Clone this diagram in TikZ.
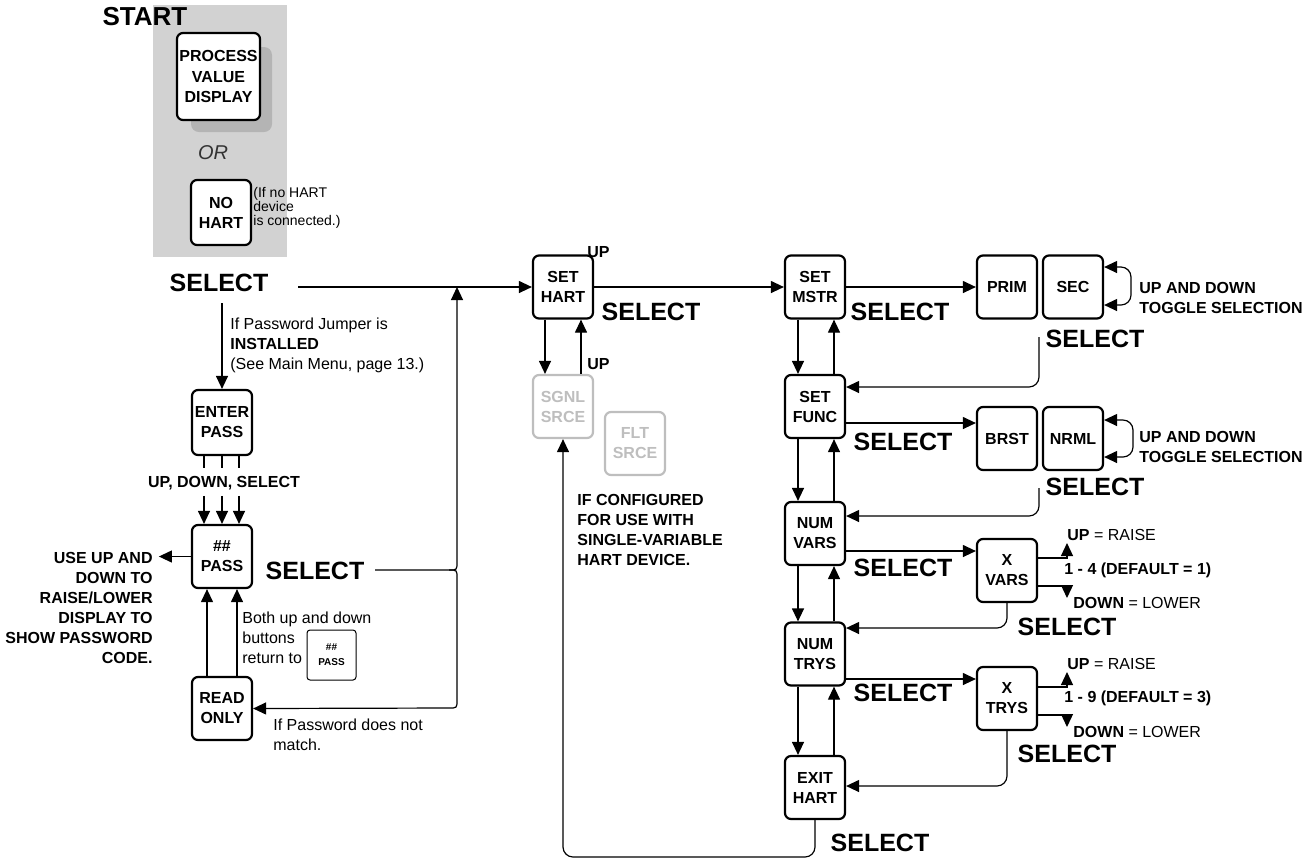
\documentclass[tikz,border=0pt]{standalone}
\usepackage{fontspec}
\setmainfont{Liberation Sans}
\usetikzlibrary{arrows.meta}
\definecolor{panelgray}{RGB}{210,210,210}
\definecolor{shadowgray}{RGB}{180,180,180}
\definecolor{lgray}{RGB}{190,190,190}
\begin{document}
\begin{tikzpicture}[x=0.5pt,y=-0.5pt,
  arr/.style={line width=0.6pt,-{Triangle[length=6.5pt,width=6pt]}},
  conn/.style={line width=0.6pt},
  btn/.style={draw,line width=1.1pt,rounded corners=3pt,fill=white,minimum width=30pt,minimum height=31.5pt,inner sep=0pt,align=center,font=\fontsize{8}{10}\selectfont\bfseries},
  lbl/.style={inner sep=0pt,font=\fontsize{8}{10}\selectfont\bfseries},
  txt/.style={inner sep=0pt,font=\fontsize{8}{10}\selectfont},
  sel/.style={inner sep=0pt,font=\fontsize{12.5}{15}\selectfont\bfseries}]
\useasboundingbox (0,0) rectangle (1312,859);

% start panel
\fill[panelgray] (153,5) rectangle (287,257);
\fill[shadowgray,rounded corners=4pt] (191,47) rectangle (272,132);
\node[btn,minimum width=41.5pt,minimum height=43.5pt,font=\fontsize{8}{10.25}\selectfont\bfseries] (pvd) at (218.5,76.5) {PROCESS\\VALUE\\DISPLAY};
\node[inner sep=0pt,font=\fontsize{13}{15}\selectfont\bfseries] (start) at (145,17) {START};
\node[inner sep=0pt,font=\fontsize{10}{12}\selectfont\itshape,text=black!80] (or) at (213,153) {OR};
\node[btn,minimum height=32.5pt] (nohart) at (221,212.5) {NO\\HART};
\node[txt,font=\fontsize{7}{7}\selectfont,anchor=west,align=left] (nohartnote) at (253,208) {(If no HART\\device\\is connected.)};

% left column
\node[sel] (sel1) at (219,283) {SELECT};
\coordinate (s1out) at (298,287);
\coordinate (s1down) at (222,303);
\node[txt,anchor=west,align=left] (pwnote) at (230,345) {If Password Jumper is\\\textbf{INSTALLED}\\(See Main Menu, page 13.)};
\node[btn,minimum height=32.5pt] (enterpass) at (222,422.5) {ENTER\\PASS};
\node[lbl] (udslbl) at (224,483) {UP, DOWN, SELECT};
\node[btn] (pass) at (222,556.5) {\#\#\\PASS};
\node[btn] (readonly) at (222,708.5) {READ\\ONLY};
\node[lbl,anchor=east,align=right] (usenote) at (153,607.5) {USE UP AND\\DOWN TO\\RAISE/LOWER\\DISPLAY TO\\SHOW PASSWORD\\CODE.};
\node[sel] (sel2) at (315,571) {SELECT};
\coordinate (s2out) at (375,570);
\node[txt,anchor=west,align=left] (bothnote) at (242,638) {Both up and down\\buttons\\return to};
\node[draw,line width=0.5pt,rounded corners=1.5pt,minimum width=24.5pt,minimum height=25pt,inner sep=0pt,align=center,font=\fontsize{5}{7.5}\selectfont\bfseries] (minipass) at (331.5,655) {\#\#\\PASS};
\node[txt,anchor=west,align=left] (nomatch) at (273,735) {If Password does not\\match.};

% set hart
\node[btn] (sethart) at (563,287) {SET\\HART};
\node[lbl,anchor=west] (up1) at (587,252) {UP};
\node[sel] (sel3) at (651,312) {SELECT};
\node[btn,draw=lgray,text=lgray] (sgnl) at (563,406.5) {SGNL\\SRCE};
\node[btn,draw=lgray,text=lgray] (flt) at (635,443.5) {FLT\\SRCE};
\node[lbl,anchor=west] (up2) at (587,364) {UP};
\node[lbl,anchor=west,align=left] (ifconf) at (577,530) {IF CONFIGURED\\FOR USE WITH\\SINGLE-VARIABLE\\HART DEVICE.};

% right column
\node[btn] (setmstr) at (815,287) {SET\\MSTR};
\node[btn] (setfunc) at (815,406.5) {SET\\FUNC};
\node[btn] (numvars) at (815,533.5) {NUM\\VARS};
\node[btn] (numtrys) at (815,654) {NUM\\TRYS};
\node[btn] (exithart) at (815,787.5) {EXIT\\HART};
\node[btn] (prim) at (1007,287) {PRIM};
\node[btn] (sec) at (1073,287) {SEC};
\node[btn] (brst) at (1007,438.5) {BRST};
\node[btn] (nrml) at (1073,438.5) {NRML};
\node[btn] (xvars) at (1007,570.5) {X\\VARS};
\node[btn] (xtrys) at (1007,698.5) {X\\TRYS};

\node[sel] (selm) at (900,312) {SELECT};
\node[sel] (self) at (903,442) {SELECT};
\node[sel] (selv) at (903,568) {SELECT};
\node[sel] (selt) at (903,693) {SELECT};
\node[sel] (sele) at (880,843) {SELECT};
\node[sel] (selsec) at (1095,339) {SELECT};
\node[sel] (selnrml) at (1095,487) {SELECT};
\node[sel] (selxv) at (1067,627) {SELECT};
\node[sel] (selxt) at (1067,754) {SELECT};

\node[lbl,anchor=west,align=left] (tog1) at (1139,298) {UP AND DOWN\\TOGGLE SELECTION};
\node[lbl,anchor=west,align=left] (tog2) at (1139,447) {UP AND DOWN\\TOGGLE SELECTION};

\node[txt,anchor=west] (vup) at (1067,535) {\textbf{UP} = RAISE};
\node[lbl,anchor=west] (vrange) at (1064,570) {1 - 4 (DEFAULT = 1)};
\node[txt,anchor=west] (vdown) at (1073,603) {\textbf{DOWN} = LOWER};
\node[txt,anchor=west] (tup) at (1067,664) {\textbf{UP} = RAISE};
\node[lbl,anchor=west] (trange) at (1064,698) {1 - 9 (DEFAULT = 3)};
\node[txt,anchor=west] (tdown) at (1073,732) {\textbf{DOWN} = LOWER};

% ---- connectors ----
\coordinate (junc) at (457,287);
\draw[arr] (s1out) -- (sethart.west);
\draw[arr] (s1down) -- (enterpass.north);
\foreach \dx in {-9pt,0pt,8.5pt}{
  \draw[conn] ([xshift=\dx]enterpass.south) -- ++(0,12);
  \draw[arr] ([xshift=\dx]pass.north) ++(0,-28) -- ([xshift=\dx]pass.north);
}
\draw[arr] (pass.west) -- ++(-32,0);
\draw[arr] ([xshift=-7.5pt]readonly.north) -- ([xshift=-7.5pt]pass.south);
\draw[arr] ([xshift=7.5pt]readonly.north) -- ([xshift=7.5pt]pass.south);
\draw[arr] (s2out) -- (449,570) .. controls (457,570) .. (457,562) -- (junc);
\draw[arr] (449,570) .. controls (457,570) .. (457,578) -- (457,700) .. controls (457,708) .. (449,708) -- (readonly.east);

\draw[arr] (sethart.east) -- (setmstr.west);
\draw[arr] ([xshift=-9pt]sethart.south) -- ([xshift=-9pt]sgnl.north);
\draw[arr] ([xshift=9pt]sgnl.north) -- ([xshift=9pt]sethart.south);
\draw[arr,rounded corners=5pt] (exithart.south) -- (815,857) -- (563,857) -- (sgnl.south);

\draw[arr] (setmstr.east) -- (prim.west);
\draw[arr] (setfunc.east |- 0,423) -- (brst.west |- 0,423);
\draw[arr] (numvars.east |- 0,551) -- (xvars.west |- 0,551);
\draw[arr] (numtrys.east |- 0,679) -- (xtrys.west |- 0,679);

\foreach \a/\b in {setmstr/setfunc,setfunc/numvars,numvars/numtrys,numtrys/exithart}{
  \draw[arr] ([xshift=-8.5pt]\a.south) -- ([xshift=-8.5pt]\b.north);
  \draw[arr] ([xshift=9.5pt]\b.north) -- ([xshift=9.5pt]\a.south);
}

\coordinate (r1) at (1039,337);
\coordinate (r2) at (1039,488);
\draw[arr,rounded corners=5pt] (r1) |- (setfunc.east |- 0,387);
\draw[arr,rounded corners=5pt] (r2) |- (numvars.east |- 0,516);
\draw[arr,rounded corners=5pt] (xvars.south) |- (numtrys.east |- 0,628);
\draw[arr,rounded corners=5pt] (xtrys.south) |- (exithart.east |- 0,786);

\draw[line width=0.6pt,{Triangle[length=6.5pt,width=6pt]}-{Triangle[length=6.5pt,width=6pt]},rounded corners=5pt]
  (sec.east |- 0,267) -- (1131,267) -- (1131,305) -- (sec.east |- 0,305);
\draw[line width=0.6pt,{Triangle[length=6.5pt,width=6pt]}-{Triangle[length=6.5pt,width=6pt]},rounded corners=5pt]
  (nrml.east |- 0,420) -- (1133,420) -- (1133,457) -- (nrml.east |- 0,457);

\draw[arr] (xvars.east |- 0,558) -| (1067,543);
\draw[arr] (xvars.east |- 0,586) -| (1067,598);
\draw[arr] (xtrys.east |- 0,687) -| (1067,672);
\draw[arr] (xtrys.east |- 0,715) -| (1067,727);
\end{tikzpicture}
\end{document}
